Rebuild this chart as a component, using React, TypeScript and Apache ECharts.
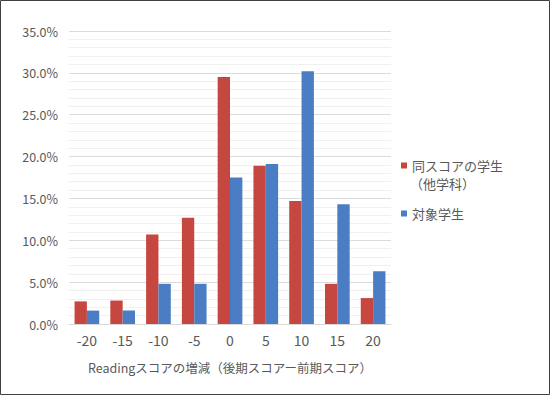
import React, { useEffect, useRef } from "react";
import * as echarts from "echarts";

const categories = ["-20", "-15", "-10", "-5", "0", "5", "10", "15", "20"];
const otherStudents = [2.7, 2.8, 10.7, 12.7, 29.5, 18.9, 14.7, 4.8, 3.1];
const targetStudents = [1.6, 1.6, 4.8, 4.8, 17.5, 19.1, 30.2, 14.3, 6.3];
const seriesNames = ["同スコアの学生", "対象学生"];
const legendSubLabel = "（他学科）";
const xAxisName = "Readingスコアの増減（後期スコアー前期スコア）";

const FONT = "'Noto Sans CJK JP', 'Noto Sans', sans-serif";
const TEXT = "#595959";

export default function App() {
  const ref = useRef<HTMLDivElement>(null);
  useEffect(() => {
    if (!ref.current) return;
    const chart = echarts.init(ref.current, undefined, { renderer: "svg" });
    chart.setOption({
      animation: false,
      backgroundColor: "#ffffff",
      textStyle: { fontFamily: FONT },
      grid: { left: 69, right: 159, top: 31, bottom: 71 },
      legend: {
        orient: "vertical",
        left: 401,
        top: 158,
        padding: 0,
        itemWidth: 6,
        itemHeight: 6,
        itemGap: 33,
        icon: "rect",
        data: seriesNames,
        textStyle: { color: TEXT, fontSize: 13, fontFamily: FONT, lineHeight: 15 },
      },
      xAxis: {
        type: "category",
        data: categories,
        name: xAxisName,
        nameLocation: "middle",
        nameGap: 37,
        nameTextStyle: { color: TEXT, fontSize: 12.5, fontFamily: FONT },
        axisLine: { lineStyle: { color: "#D9D9D9" } },
        axisTick: { show: false },
        axisLabel: { color: TEXT, fontSize: 14, margin: 9, fontFamily: FONT },
      },
      yAxis: {
        type: "value",
        min: 0,
        max: 35,
        interval: 5,
        axisLine: { show: false },
        axisTick: { show: false },
        axisLabel: {
          color: TEXT,
          fontSize: 12.5,
          margin: 11,
          fontFamily: FONT,
          formatter: (v: number) => v.toFixed(1) + "%",
        },
        splitLine: { lineStyle: { color: "#DCDCDC" } },
        minorTick: { show: false, splitNumber: 5 },
        minorSplitLine: { show: true, lineStyle: { color: "#F0F0F0" } },
      },
      series: [
        {
          name: seriesNames[0],
          type: "bar",
          data: otherStudents,
          itemStyle: { color: "#C5473F" },
          barGap: "0%",
          barCategoryGap: "31%",
        },
        {
          name: seriesNames[1],
          type: "bar",
          data: targetStudents,
          itemStyle: { color: "#4A7DC3" },
          barGap: "0%",
          barCategoryGap: "31%",
        },
      ],
      graphic: [
        {
          type: "text",
          left: 410,
          top: 177,
          style: { text: legendSubLabel, fill: TEXT, font: `13px ${FONT}` },
          silent: true,
        },
        {
          type: "rect",
          z: 100,
          shape: { x: 0.5, y: 0.5, width: 549, height: 394 },
          style: { fill: "none", stroke: "#404040", lineWidth: 1 },
          silent: true,
        },
      ],
    });
    return () => chart.dispose();
  }, []);
  return (
    <div
      ref={ref}
      style={{ position: "fixed", left: 0, top: 0, width: 550, height: 395 }}
    />
  );
}
